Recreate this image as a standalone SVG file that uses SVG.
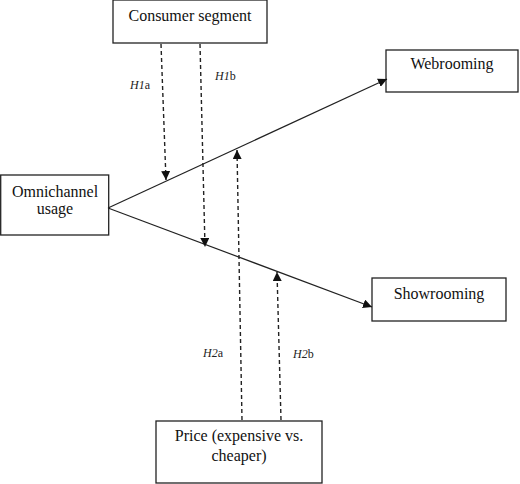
<svg xmlns="http://www.w3.org/2000/svg" width="520" height="484" viewBox="0 0 520 484">
<style>
.box{fill:#fff;stroke:#222;stroke-width:1.3}
.t{font-family:"Liberation Serif","Times New Roman",serif;font-size:16px;fill:#111;text-anchor:middle}
.lab{font-family:"Liberation Serif","Times New Roman",serif;font-size:12px;fill:#222}
.solid{stroke:#222;stroke-width:1.2;fill:none}
.dash{stroke:#222;stroke-width:1.4;fill:none;stroke-dasharray:4 3}
</style>
<defs>
<marker id="ah" viewBox="0 0 10 10" refX="10" refY="5" markerWidth="9" markerHeight="9" markerUnits="userSpaceOnUse" orient="auto">
<path d="M0,0 L10,5 L0,10 Z" fill="#111"/>
</marker>
</defs>
<rect width="520" height="484" fill="#fff"/>
<g id="consumer">
<rect class="box" x="113" y="0" width="154" height="43"/>
<text class="t" x="190" y="21">Consumer segment</text>
</g>
<g id="omnichannel">
<rect class="box" x="0.7" y="175" width="108" height="60"/>
<text class="t" x="55" y="197">Omnichannel</text>
<text class="t" x="55" y="214">usage</text>
</g>
<g id="webrooming">
<rect class="box" x="386" y="50" width="132" height="42"/>
<text class="t" x="452" y="69">Webrooming</text>
</g>
<g id="showrooming">
<rect class="box" x="372" y="278" width="134" height="43"/>
<text class="t" x="439" y="299">Showrooming</text>
</g>
<g id="price">
<rect class="box" x="156" y="421" width="166" height="62"/>
<text class="t" x="239" y="441">Price (expensive vs.</text>
<text class="t" x="239" y="461">cheaper)</text>
</g>
<g id="connectors">
<path class="solid" d="M108,208 L387,79" marker-end="url(#ah)"/>
<path class="solid" d="M108,208 L372,307" marker-end="url(#ah)"/>
<path class="dash" d="M161,44 L166,180" marker-end="url(#ah)"/>
<path class="dash" d="M200,44 L205,247" marker-end="url(#ah)"/>
<path class="dash" d="M242,420 L237,150" marker-end="url(#ah)"/>
<path class="dash" d="M281,420 L277,272" marker-end="url(#ah)"/>
</g>
<g id="labels">
<text class="lab" x="130" y="89"><tspan font-style="italic">H1</tspan>a</text>
<text class="lab" x="215" y="80"><tspan font-style="italic">H1</tspan>b</text>
<text class="lab" x="203" y="357"><tspan font-style="italic">H2</tspan>a</text>
<text class="lab" x="293" y="358"><tspan font-style="italic">H2</tspan>b</text>
</g>
</svg>
